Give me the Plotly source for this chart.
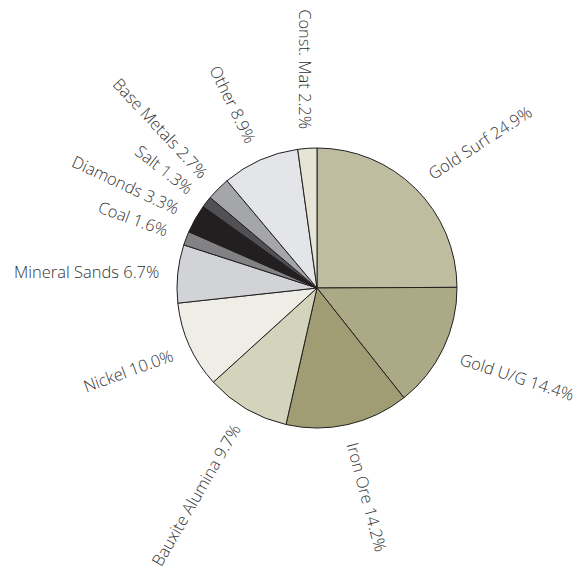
import math
import plotly.graph_objects as go

# Share of mining output by commodity (per cent)
labels = ["Gold Surf", "Gold U/G", "Iron Ore", "Bauxite Alumina", "Nickel",
          "Mineral Sands", "Coal", "Diamonds", "Salt", "Base Metals",
          "Other", "Const. Mat"]
shares = [24.9, 14.4, 14.2, 9.7, 10.0, 6.7, 1.6, 3.3, 1.3, 2.7, 8.9, 2.2]

# Styling
colors = ["#bfbd9f", "#acaa86", "#a09c73", "#d4d3bc", "#eeede6",
          "#d2d3d7", "#828284", "#231f20", "#505055", "#a5a6aa",
          "#e4e5e8", "#e4e4d7"]
# text rotation of each label, degrees clockwise
label_tilt = [-33, 18, 75, -60, -20, 0, 20, 25, 38, 47, 64, 90]

W, H = 578, 571
cx, cy, R = 317, 288, 140          # pie centre and radius in pixels
font_size = 16.5
label_r = 159                       # radius where each label begins/ends
box_h = 1.3 * font_size

fig = go.Figure(go.Pie(
    labels=labels,
    values=shares,
    sort=False,
    direction="clockwise",
    rotation=0,
    textinfo="none",
    hoverinfo="label+value",
    showlegend=False,
    marker=dict(colors=colors, line=dict(color="#231f20", width=1)),
    domain=dict(x=[(cx - R) / W, (cx + R) / W],
                y=[(H - cy - R) / H, (H - cy + R) / H]),
))

# Labels sit outside each slice: right half reads outward,
# left half reads toward the centre
total = sum(shares)
cum = 0.0
annotations = []
for lab, v, theta in zip(labels, shares, label_tilt):
    mid = (cum + v / 2) / total * 2 * math.pi
    cum += v
    ux, uy = math.sin(mid), -math.cos(mid)
    px, py = cx + label_r * ux, cy + label_r * uy
    right = ux >= 0
    s = abs(math.sin(math.radians(theta)))
    c = math.cos(math.radians(theta))
    half = box_h / 2
    if right:
        xa, x = "left", px - half * s
        if theta < 0:
            ya, y = "bottom", py + half * c
        else:
            ya, y = "top", py - half * c
    else:
        xa, x = "right", px + half * s
        if theta < 0:
            ya, y = "top", py - half * c
        else:
            ya, y = "bottom", py + half * c
    annotations.append(dict(
        text=f"{lab} {v:.1f}%",
        x=x / W, y=1 - y / H, xref="paper", yref="paper",
        xanchor=xa, yanchor=ya, textangle=theta,
        showarrow=False, borderpad=0, borderwidth=0,
        font=dict(family="Open Sans", size=font_size, color="#333333",
                  weight=300),
    ))

fig.update_layout(
    width=W, height=H,
    margin=dict(l=0, r=0, t=0, b=0),
    paper_bgcolor="white",
    plot_bgcolor="white",
    annotations=annotations,
)

fig.write_html("out.html")
